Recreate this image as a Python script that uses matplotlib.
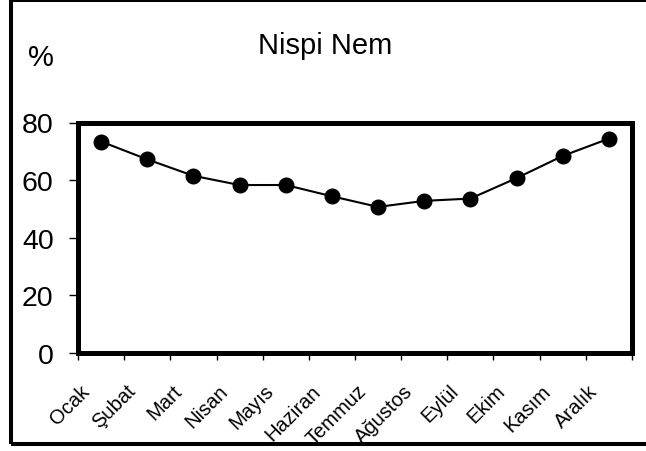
import matplotlib
matplotlib.use("Agg")
import matplotlib.pyplot as plt
from matplotlib.patches import Rectangle
from matplotlib.transforms import ScaledTranslation

plt.rcParams['font.family'] = ['Liberation Sans', 'DejaVu Sans']

months = ["Ocak", "Şubat", "Mart", "Nisan", "Mayıs", "Haziran",
          "Temmuz", "Ağustos", "Eylül", "Ekim", "Kasım", "Aralık"]
humidity = [73.4, 67.2, 61.5, 58.3, 58.3, 54.4, 50.7, 52.8, 53.6, 60.7, 68.4, 74.4]
y_ticks = [0, 20, 40, 60, 80]

W, H = 646, 452
fig = plt.figure(figsize=(W / 100, H / 100), dpi=100)
fig.patch.set_facecolor("white")

ax = fig.add_axes([78 / W, (H - 354) / H, (632 - 78) / W, (354 - 123.5) / H])

x = list(range(len(months)))
ax.plot(x, humidity, color="black", linewidth=1.5, marker="o",
        markersize=10.5, markerfacecolor="black", markeredgecolor="black")

ax.set_xlim(-0.5, len(months) - 0.5)
ax.set_ylim(0, 80)

# tick marks on category boundaries, labels at category centres
ax.set_xticks([i - 0.5 for i in range(len(months) + 1)])
ax.set_xticklabels([])
ax.set_xticks(x, months, minor=True)
ax.tick_params(axis="x", which="major", direction="out", length=5, width=1)
ax.tick_params(axis="x", which="minor", length=0, pad=20, labelsize=14.5)
for lab in ax.get_xticklabels(minor=True):
    lab.set_rotation(45)
    lab.set_ha("right")
    lab.set_va("top")
    lab.set_transform(lab.get_transform() + ScaledTranslation(-8 / 100, 0, fig.dpi_scale_trans))

ax.set_yticks(y_ticks)
ax.tick_params(axis="y", direction="out", length=6.5, width=1, pad=11, labelsize=20.5)

for sp in ax.spines.values():
    sp.set_linewidth(3.6)
    sp.set_color("black")

fig.text(325 / W, 1 - 53.6 / H, "Nispi Nem", ha="center", va="baseline", fontsize=21)
fig.text(41 / W, 1 - 66 / H, "%", ha="center", va="baseline", fontsize=21)

# outer frame
fig.patches.append(Rectangle((11.3 / W, 1 - 445 / H), 1.0, (445 - 1.3) / H,
                             transform=fig.transFigure, fill=False,
                             edgecolor="black", linewidth=2.9, clip_on=False))

fig.savefig("out.png", dpi=100)
